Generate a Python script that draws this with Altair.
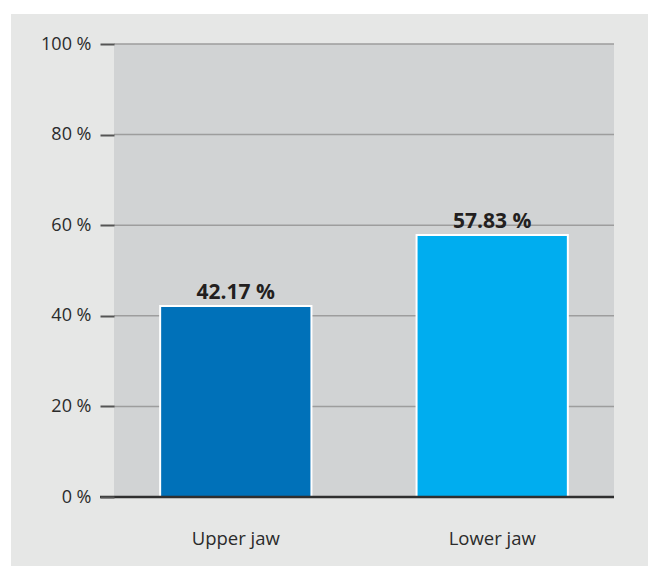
import altair as alt
import pandas as pd

# Share of cases by jaw
jaws = ["Upper jaw", "Lower jaw"]
shares = [42.17, 57.83]
bar_colors = ["#0071b9", "#00adef"]
label_texts = ["42.17 %", "57.83 %"]
y_ticks = [0, 20, 40, 60, 80, 100]

df = pd.DataFrame({"jaw": jaws, "share": shares, "label": label_texts})

W, H = 500, 453
FONT = "Open Sans"

# light grey card behind the whole figure
card = alt.Chart(df).mark_rect(color="#e6e7e6", clip=False).encode(
    x=alt.value(-103), x2=alt.value(W + 34),
    y=alt.value(-30), y2=alt.value(H + 69),
)

# darker plot area
plot_bg = alt.Chart(df).mark_rect(color="#d1d3d4").encode(
    x=alt.value(0), x2=alt.value(W), y=alt.value(0), y2=alt.value(H),
)

y_scale = alt.Scale(domain=[0, 100], nice=False)
x_scale = alt.Scale(domain=jaws, paddingInner=0.41, paddingOuter=0.18)

gridlines = alt.Chart(pd.DataFrame({"v": y_ticks[1:]})).mark_rule(
    color="#9d9d9d", strokeWidth=1.5
).encode(
    y=alt.Y("v:Q", scale=y_scale, axis=alt.Axis(
        values=y_ticks,
        labelExpr="datum.value + ' %'",
        title=None, grid=False, domain=False, zindex=2,
        tickSize=14, tickColor="#555555", tickWidth=2,
        labelPadding=9, labelFontSize=18, labelFont=FONT,
        labelColor="#2b2b2b",
    )),
)

bars = alt.Chart(df).mark_bar(stroke="white", strokeWidth=2).encode(
    x=alt.X("jaw:N", sort=jaws, scale=x_scale, axis=alt.Axis(
        title=None, ticks=False, domain=False, labelAngle=0, zindex=2,
        labelPadding=32, labelFontSize=18.5, labelFont=FONT,
        labelColor="#2b2b2b",
    )),
    y=alt.Y("share:Q", scale=y_scale),
    color=alt.Color("jaw:N", sort=jaws,
                    scale=alt.Scale(domain=jaws, range=bar_colors), legend=None),
)

labels = alt.Chart(df).mark_text(
    baseline="alphabetic", dy=-7, fontSize=21, fontWeight="bold",
    font=FONT, color="#231f20",
).encode(
    x=alt.X("jaw:N", sort=jaws, scale=x_scale),
    y=alt.Y("share:Q", scale=y_scale),
    text="label:N",
)

zero_line = alt.Chart(pd.DataFrame({"v": [0]})).mark_rule(
    color="#2f2f2f", strokeWidth=2.5, clip=False
).encode(y=alt.Y("v:Q", scale=y_scale), x=alt.value(-14), x2=alt.value(W))

chart = alt.layer(card, plot_bg, gridlines, bars, labels, zero_line).properties(
    width=W, height=H,
    background="white",
    padding={"left": 114, "top": 44, "right": 34, "bottom": 69},
    autosize=alt.AutoSizeParams(type="none"),
).configure_view(stroke=None)

chart.save("out.html", embed_options={"renderer": "svg", "actions": False})
